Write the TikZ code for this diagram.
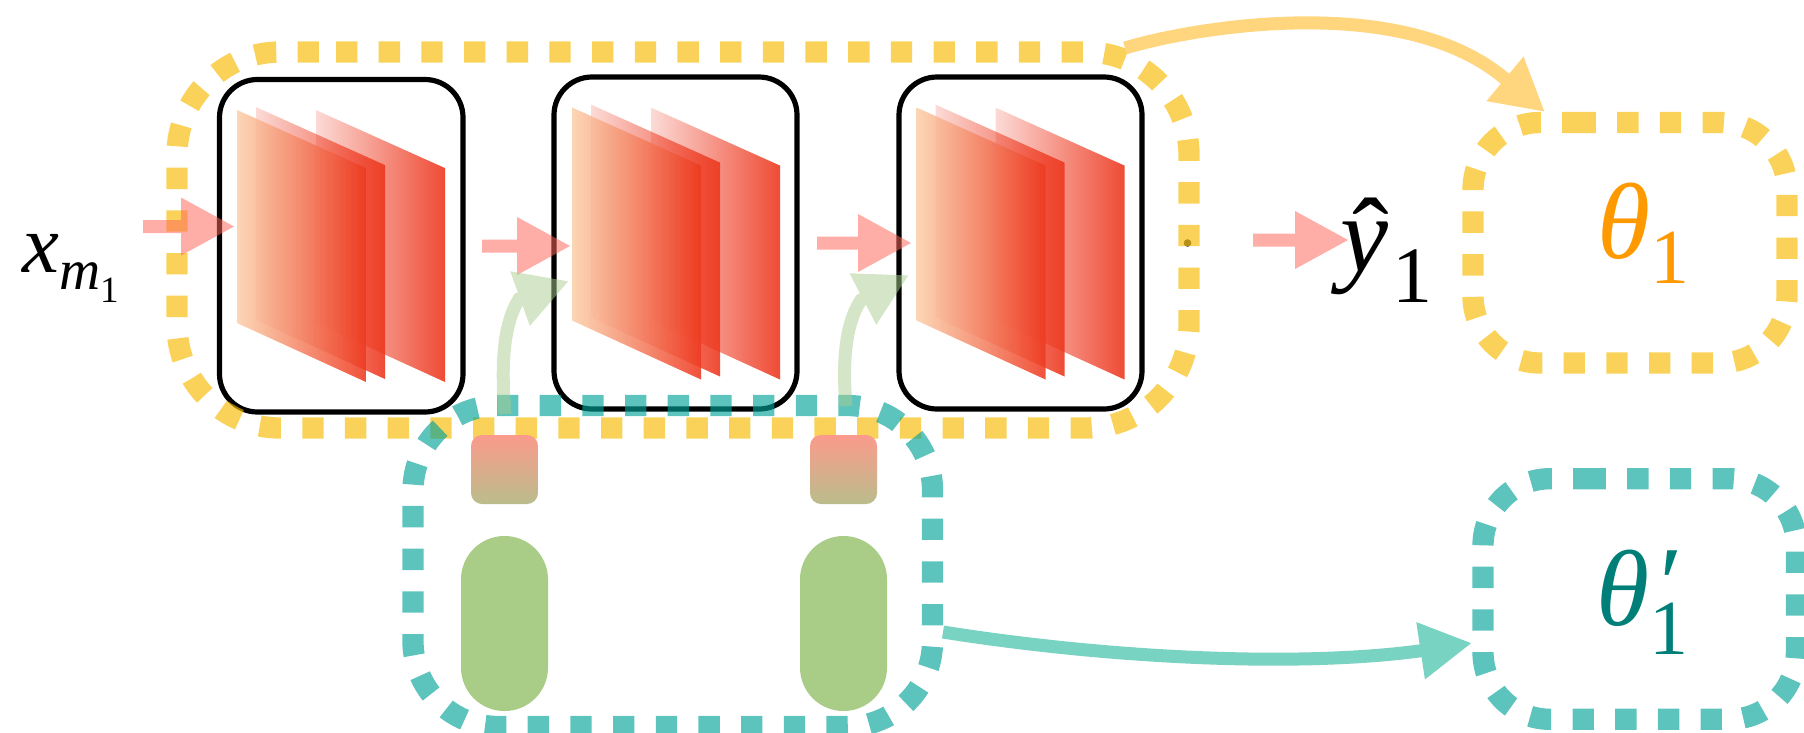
\documentclass[tikz,border=0pt]{standalone}
\usepackage{fontspec}
\setmainfont{Liberation Serif}
\usetikzlibrary{arrows.meta,fadings}
\definecolor{yel}{HTML}{F7BA01}
\definecolor{tea}{HTML}{00A297}
\definecolor{pnk}{HTML}{FF6659}
\definecolor{grn}{HTML}{A9CE8F}
\definecolor{pill}{HTML}{A9CD87}
\definecolor{orgarrow}{HTML}{FFD57E}
\definecolor{teaarrow}{HTML}{79D3C2}
\definecolor{thetao}{HTML}{FF9900}
\definecolor{thetat}{HTML}{007F78}
\definecolor{sqtop}{HTML}{FB9A8C}
\definecolor{sqbot}{HTML}{BABD8C}
\definecolor{aL}{HTML}{FBD0AB}
\definecolor{aR}{HTML}{EE3A20}
\definecolor{cC}{HTML}{ED371E}
\newcommand{\fs}[1]{\fontsize{#1pt}{#1pt}\selectfont}
\tikzfading[name=planefade,left color=transparent!82,right color=transparent!10]
\tikzset{
  yelbox/.style={draw=yel,draw opacity=.65,line width=21.3pt,dash pattern=on 21.34pt off 21.34pt},
  teabox/.style={draw=tea,draw opacity=.64,line width=21.3pt,dash pattern=on 21.34pt off 21.34pt},
  blk/.style={draw=black,line width=5.2pt,rounded corners=38pt},
  pinkarrow/.style={draw=pnk,line width=13pt,-{Triangle[length=54pt,width=54pt]}},
  grnarrow/.style={draw=grn,line width=13pt,-{Triangle[length=52pt,width=54pt]}},
  orgcurve/.style={draw=orgarrow,line width=13pt,-{Triangle[length=52pt,width=54pt]}},
  teacurve/.style={draw=teaarrow,line width=13pt,-{Triangle[length=52pt,width=54pt]}},
  pinkgroup/.style={transparency group,opacity=.53},
  grngroup/.style={transparency group,opacity=.5},
  txt/.style={inner sep=0pt,anchor=base west},
  backplane/.style={fill=cC,draw=none,path fading=planefade,fit fading=true},
  squarebox/.style={top color=sqtop,bottom color=sqbot,draw=none,rounded corners=11pt},
  pillbox/.style={fill=pill,draw=none,rounded corners=43.4pt},
}
\newcommand{\planes}[2]{%
  \begin{scope}[shift={(#1,#2)}]
    \fill[backplane] (256,107) -- (385,165) -- (385,379) -- (256,320) -- cycle;
    \fill[backplane] (316,110) -- (445,168) -- (445,382) -- (316,323) -- cycle;
    \shade[left color=aL,right color=aR,opacity=.88] (237,110) -- (366,168) -- (366,382) -- (237,323) -- cycle;
  \end{scope}}
\begin{document}
\begin{tikzpicture}[x=1pt,y=-1pt]
\useasboundingbox (0,0) rectangle (1804,732);
% anchors of the connectors
\coordinate (a1s) at (143,226.5); \coordinate (a1e) at (235,226.5);
\coordinate (a2s) at (482,246);   \coordinate (a2e) at (571,246);
\coordinate (a3s) at (817,243);   \coordinate (a3e) at (912,243);
\coordinate (a4s) at (1253,240);  \coordinate (a4e) at (1349,240);
\coordinate (g1s) at (505,414);   \coordinate (g1m) at (519,299); \coordinate (g1e) at (569,281);
\coordinate (g2s) at (846,406);   \coordinate (g2m) at (861,300); \coordinate (g2e) at (909,275);
\coordinate (ors) at (1125,48);   \coordinate (orm) at (1504,78); \coordinate (ore) at (1545,112);
\coordinate (tes) at (943,632);   \coordinate (tem) at (1419,651); \coordinate (tee) at (1472,643);
% black frames
\draw[blk] (219.5,79.5) rectangle (463,412);
\draw[blk] (554,77) rectangle (797,409);
\draw[blk] (899,77) rectangle (1142,409);
% planes
\planes{0}{0}
\planes{335}{-2.5}
\planes{679.5}{-2.5}
% dot
\fill[black!75] (1187.5,243) circle (3.8pt);
% yellow dashed groups
\draw[yelbox,rounded corners=103pt] (336,52) -- (1189,52) -- (1189,428) -- (177,428) -- (177,52) -- (336,52);
\draw[yelbox,rounded corners=67pt] (1574.5,122.5) -- (1787,122.5) -- (1787,363) -- (1473,363) -- (1473,122.5) -- (1574.5,122.5);
% small gradient boxes and pills
\shade[squarebox] (471,435) rectangle (538,504);
\shade[squarebox] (810,435) rectangle (877,504);
\fill[pillbox] (461,536) rectangle (548,711);
\fill[pillbox] (800,536) rectangle (887,711);
% teal dashed groups
\draw[teabox,rounded corners=85pt] (497,405.5) -- (932.5,405.5) -- (932.5,726.5) -- (413,726.5) -- (413,405.5) -- (497,405.5);
\draw[teabox,rounded corners=67pt] (1584.5,478.7) -- (1796.4,478.7) -- (1796.4,719.3) -- (1483,719.3) -- (1483,478.7) -- (1584.5,478.7);
% arrows
\begin{scope}[pinkgroup]
\draw[pinkarrow] (a1s) -- (a1e);
\end{scope}
\begin{scope}[pinkgroup]
\draw[pinkarrow] (a2s) -- (a2e);
\end{scope}
\begin{scope}[pinkgroup]
\draw[pinkarrow] (a3s) -- (a3e);
\end{scope}
\begin{scope}[pinkgroup]
\draw[pinkarrow] (a4s) -- (a4e);
\end{scope}
\begin{scope}[grngroup]
\draw[grnarrow] (g1s) .. controls (501,365) and (503,325) .. (g1m) -- (g1e);
\end{scope}
\begin{scope}[grngroup]
\draw[grnarrow] (g2s) .. controls (842,360) and (846,322) .. (g2m) -- (g2e);
\end{scope}
\draw[orgcurve] (ors) .. controls (1195,27) and (1401,-8) .. (orm) -- (ore);
\draw[teacurve] (tes) .. controls (1100,657) and (1290,668) .. (tem) -- (tee);
% labels
\node[txt] (xm) at (22,272) {\fs{83}\itshape x\raisebox{-17pt}{\fs{57}m}\raisebox{-30pt}{\fs{37}\upshape 1}};
\node[txt] (yh) at (1340,271) {\fs{108}\itshape\rlap{\raisebox{-3pt}{\hspace{12pt}\fs{110}\upshape\char"02C6}}y\hspace{4pt}\raisebox{-31pt}{\fs{80}\upshape 1}};
\node[txt,text=thetao] (t1) at (1597,258) {\fs{108}\itshape θ\raisebox{-25pt}{\fs{78}\upshape 1}};
\node[txt,text=thetat] (t2) at (1596,625) {\fs{108}\itshape θ\rlap{\raisebox{6pt}{\hspace{4pt}\fs{105}′}}\raisebox{-29pt}{\fs{78}\upshape 1}};
\end{tikzpicture}
\end{document}
